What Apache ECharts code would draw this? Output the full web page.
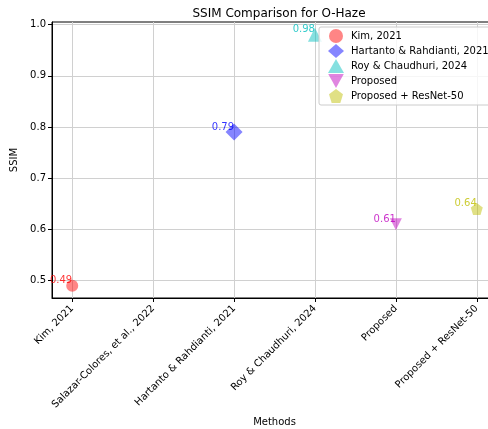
<!DOCTYPE html>
<html>
<head>
<meta charset="utf-8">
<script src="https://cdn.jsdelivr.net/npm/echarts@6/dist/echarts.min.js"></script>
<style>
  html, body { margin: 0; padding: 0; background: #fff; overflow: hidden; }
  #chart { width: 520px; height: 429px; }
</style>
</head>
<body>
<div id="chart"></div>
<script>
// Methods on the x axis (Salazar-Colores has no O-Haze score)
const methods = ['Kim, 2021', 'Salazar-Colores, et al., 2022', 'Hartanto & Rahdianti, 2021',
                 'Roy & Chaudhuri, 2024', 'Proposed', 'Proposed + ResNet-50'];
const ssimValues = [0.49, null, 0.79, 0.98, 0.61, 0.64];
const yTicks = [0.5, 0.6, 0.7, 0.8, 0.9, 1.0];

// Per-method marker styling: text colour and translucent marker fill
const textColors = {
  'Kim, 2021': '#ff0000',
  'Hartanto & Rahdianti, 2021': '#0000ff',
  'Roy & Chaudhuri, 2024': '#00bfbf',
  'Proposed': '#bf00bf',
  'Proposed + ResNet-50': '#bfbf00'
};
const fillColors = {
  'Kim, 2021': 'rgba(255,0,0,0.6)',
  'Hartanto & Rahdianti, 2021': 'rgba(0,0,255,0.6)',
  'Roy & Chaudhuri, 2024': 'rgba(0,191,191,0.6)',
  'Proposed': 'rgba(191,0,191,0.6)',
  'Proposed + ResNet-50': 'rgba(191,191,0,0.6)'
};
const markerShapes = {
  'Kim, 2021': 'circle',
  'Hartanto & Rahdianti, 2021': 'diamond',
  'Roy & Chaudhuri, 2024': 'triangle',
  'Proposed': 'path://M0,0 L10,0 L5,9 Z',
  'Proposed + ResNet-50': 'path://M5,0 L10,3.8 L8.1,10 L1.9,10 L0,3.8 Z'
};
const markerSizes = {
  'Kim, 2021': 12,
  'Hartanto & Rahdianti, 2021': 17,
  'Roy & Chaudhuri, 2024': 14,
  'Proposed': 12,
  'Proposed + ResNet-50': 12
};

const FONT = 'DejaVu Sans';
const xIdx = methods.map((_, i) => i);

const series = [];
methods.forEach((m, i) => {
  if (ssimValues[i] == null) return;
  const s = markerSizes[m];
  series.push({
    name: m,
    type: 'scatter',
    data: [[i, ssimValues[i]]],
    symbol: markerShapes[m],
    symbolSize: s,
    itemStyle: { color: fillColors[m] },
    label: {
      show: true,
      position: [s / 2, s / 2],
      align: 'right',
      verticalAlign: 'bottom',
      formatter: p => p.value[1].toFixed(2),
      color: textColors[m],
      fontFamily: FONT,
      fontSize: 10
    },
    emphasis: { disabled: true }
  });
});

const chart = echarts.init(document.getElementById('chart'), null, { renderer: 'canvas' });
chart.setOption({
  animation: false,
  backgroundColor: '#fff',
  title: {
    text: 'SSIM Comparison for O-Haze',
    left: 274, top: 3, textAlign: 'center',
    textStyle: { fontFamily: FONT, fontSize: 12, fontWeight: 'normal', color: '#000' }
  },
  grid: { left: 52, top: 22, width: 445, height: 276, containLabel: false,
          outerBoundsMode: 'none',
          show: true, borderColor: '#000', borderWidth: 1 },
  legend: {
    left: 319, top: 27,
    orient: 'vertical',
    itemGap: 1,
    itemWidth: 16, itemHeight: 14,
    padding: [2, 10, 2, 9],
    backgroundColor: 'rgba(255,255,255,0.8)',
    borderColor: '#cccccc', borderWidth: 1, borderRadius: 2,
    textStyle: { fontFamily: FONT, fontSize: 10, color: '#000', padding: [0, 0, 0, 2] },
    data: series.map(s => ({ name: s.name, icon: markerShapes[s.name] }))
  },
  xAxis: {
    type: 'value', min: -0.25, max: 5.25,
    name: 'Methods', nameLocation: 'middle', nameGap: 116,
    nameTextStyle: { fontFamily: FONT, fontSize: 10, color: '#000' },
    axisLine: { show: true, onZero: false, lineStyle: { color: '#000', width: 1 } },
    axisTick: { show: true, customValues: xIdx, length: 4, lineStyle: { color: '#000' } },
    axisLabel: {
      customValues: xIdx, rotate: 45, margin: 9,
      fontFamily: FONT, fontSize: 10, color: '#000',
      formatter: v => methods[Math.round(v)]
    },
    splitLine: { show: true, lineStyle: { color: '#d0d0d0', width: 1 } }
  },
  yAxis: {
    type: 'value', min: 0.466, max: 1.005,
    name: 'SSIM', nameLocation: 'middle', nameGap: 28,
    nameTextStyle: { fontFamily: FONT, fontSize: 10, color: '#000' },
    axisLine: { show: true, onZero: false, lineStyle: { color: '#000', width: 1 } },
    axisTick: { show: true, customValues: yTicks, length: 4, lineStyle: { color: '#000' } },
    axisLabel: {
      customValues: yTicks, margin: 6,
      fontFamily: FONT, fontSize: 10, color: '#000',
      formatter: v => v.toFixed(1)
    },
    splitLine: { show: true, lineStyle: { color: '#d0d0d0', width: 1 } }
  },
  series: series
});
</script>
</body>
</html>
